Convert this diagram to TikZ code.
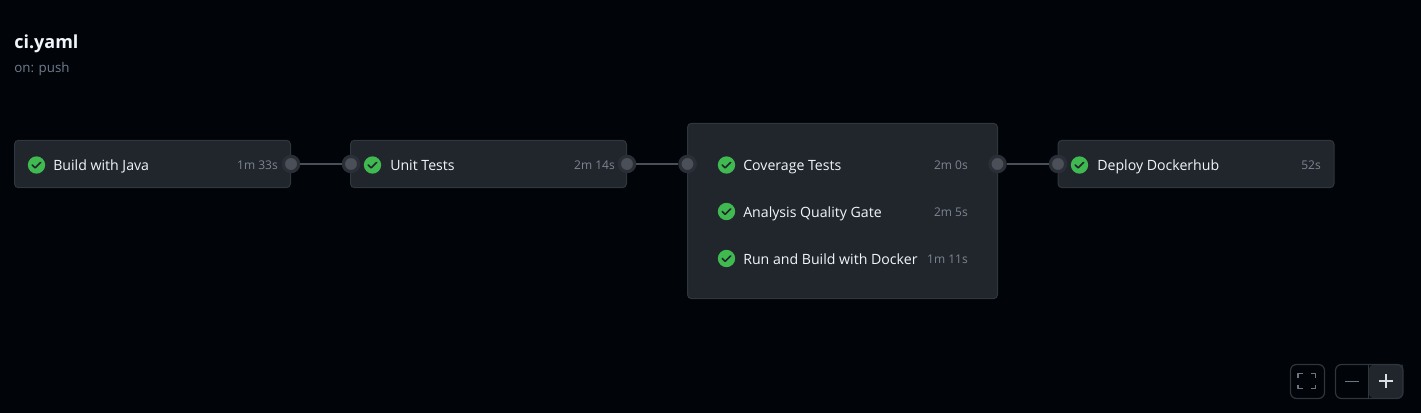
\documentclass[tikz,border=0pt]{standalone}
\usepackage{fontspec}
\setmainfont{Open Sans}
\definecolor{bgc}{HTML}{010409}
\definecolor{boxc}{HTML}{21262D}
\definecolor{edgec}{HTML}{30363D}
\definecolor{portc}{HTML}{4A4F58}
\definecolor{ringc}{HTML}{2A2E36}
\definecolor{linec}{HTML}{4A4F58}
\definecolor{okc}{HTML}{3FB950}
\definecolor{timec}{HTML}{7D8590}
\definecolor{textc}{HTML}{F0F6FC}
\definecolor{subc}{HTML}{6E7E8E}
\definecolor{btnc}{HTML}{6E7681}
\tikzset{
  x=0.75pt,y=-0.75pt,
  jobbox/.style={draw=edgec,line width=0.75pt,fill=boxc,rounded corners=3pt,inner sep=0pt,minimum height=35.5pt,minimum width=207pt},
  groupbox/.style={draw=edgec,line width=0.75pt,fill=boxc,rounded corners=3pt,inner sep=0pt,minimum height=131.5pt,minimum width=232.5pt},
  port/.style={circle,fill=portc,draw=ringc,line width=2.4pt,inner sep=0pt,minimum size=11.5pt},
  link/.style={draw=linec,line width=1.8pt},
  okicon/.style={circle,fill=okc,inner sep=0pt,minimum size=13pt,
    path picture={\draw[boxc,line width=1.2pt,line cap=round,line join=round]
      ([shift={(-3.2pt,0pt)}]path picture bounding box.center) -- ++(2.2pt,-2.2pt) -- ++(4.2pt,4.2pt);}},
  jobname/.style={anchor=base west,inner sep=0pt,text=textc,font=\fontsize{10.6pt}{12pt}\selectfont},
  jobtime/.style={anchor=base east,inner sep=0pt,text=timec,font=\fontsize{9pt}{11pt}\selectfont},
  btn/.style={draw=edgec,line width=0.9pt,rounded corners=4.5pt},
  glyph/.style={draw=btnc,line width=1.3pt,line join=round},
}
\begin{document}
\begin{tikzpicture}
\fill[bgc] (0,0) rectangle (1421,413);
\useasboundingbox (0,0) rectangle (1421,413);

\node[anchor=base west,inner sep=0pt,text=textc,font=\fontsize{13.5pt}{16pt}\selectfont\bfseries] (title) at (14,48.5) {ci.yaml};
\node[anchor=base west,inner sep=0pt,text=subc,font=\fontsize{10pt}{12pt}\selectfont] (sub) at (14,73) {on: push};

\node[jobbox] (j1) at (152.5,164) {};
\node[jobbox] (j2) at (488.5,164) {};
\node[groupbox] (j3) at (842.5,211) {};
\node[jobbox] (j4) at (1196,164) {};

\node[okicon] (i1) at (36.5,165) {};
\node[jobname] (n1) at (53,171) {Build with Java};
\node[jobtime] (t1) at (278,170) {1m 33s};

\node[okicon] (i2) at (372.5,165) {};
\node[jobname] (n2) at (390,171) {Unit Tests};
\node[jobtime] (t2) at (615,170) {2m 14s};

\node[okicon] (i3) at (726.5,165) {};
\node[jobname] (n3) at (743,171) {Coverage Tests};
\node[jobtime] (t3) at (968,170) {2m 0s};

\node[okicon] (i4) at (726.5,211.5) {};
\node[jobname] (n4) at (743,217.5) {Analysis Quality Gate};
\node[jobtime] (t4) at (968,216.5) {2m 5s};

\node[okicon] (i5) at (726.5,258.5) {};
\node[jobname] (n5) at (743,264.5) {Run and Build with Docker};
\node[jobtime] (t5) at (968,263.5) {1m 11s};

\node[okicon] (i6) at (1079.5,165) {};
\node[jobname] (n6) at (1097,171) {Deploy Dockerhub};
\node[jobtime] (t6) at (1321,170) {52s};

\node[port] (p1r) at (291,164) {};
\node[port] (p2l) at (351,164) {};
\node[port] (p2r) at (627,164) {};
\node[port] (p3l) at (687.5,164) {};
\node[port] (p3r) at (997.5,164) {};
\node[port] (p4l) at (1058,164) {};

\draw[link] (p1r) -- (p2l);
\draw[link] (p2r) -- (p3l);
\draw[link] (p3r) -- (p4l);

% zoom controls
\draw[btn] (1290.5,364.5) rectangle (1324.5,398.5);
\draw[glyph] (1298,378) -- (1298,373.5) -- (1303,373.5);
\draw[glyph] (1311,373.5) -- (1315.5,373.5) -- (1315.5,378);
\draw[glyph] (1298,384.5) -- (1298,388.5) -- (1303,388.5);
\draw[glyph] (1311,388.5) -- (1315.5,388.5) -- (1315.5,384.5);

\fill[boxc,rounded corners=4.5pt] (1368.5,364.5) [sharp corners] -- (1403,364.5) [rounded corners=4.5pt] -- (1403,398.5) -- (1368.5,398.5) -- cycle;
\draw[btn] (1335.5,364.5) rectangle (1403,398.5);
\draw[edgec,line width=0.9pt] (1368.5,364.5) -- (1368.5,398.5);
\draw[draw=btnc,line width=1.3pt] (1345,381.5) -- (1359,381.5);
\draw[draw=textc!90!bgc,line width=1.5pt] (1379,381) -- (1393,381) (1386,374) -- (1386,388);
\end{tikzpicture}
\end{document}
